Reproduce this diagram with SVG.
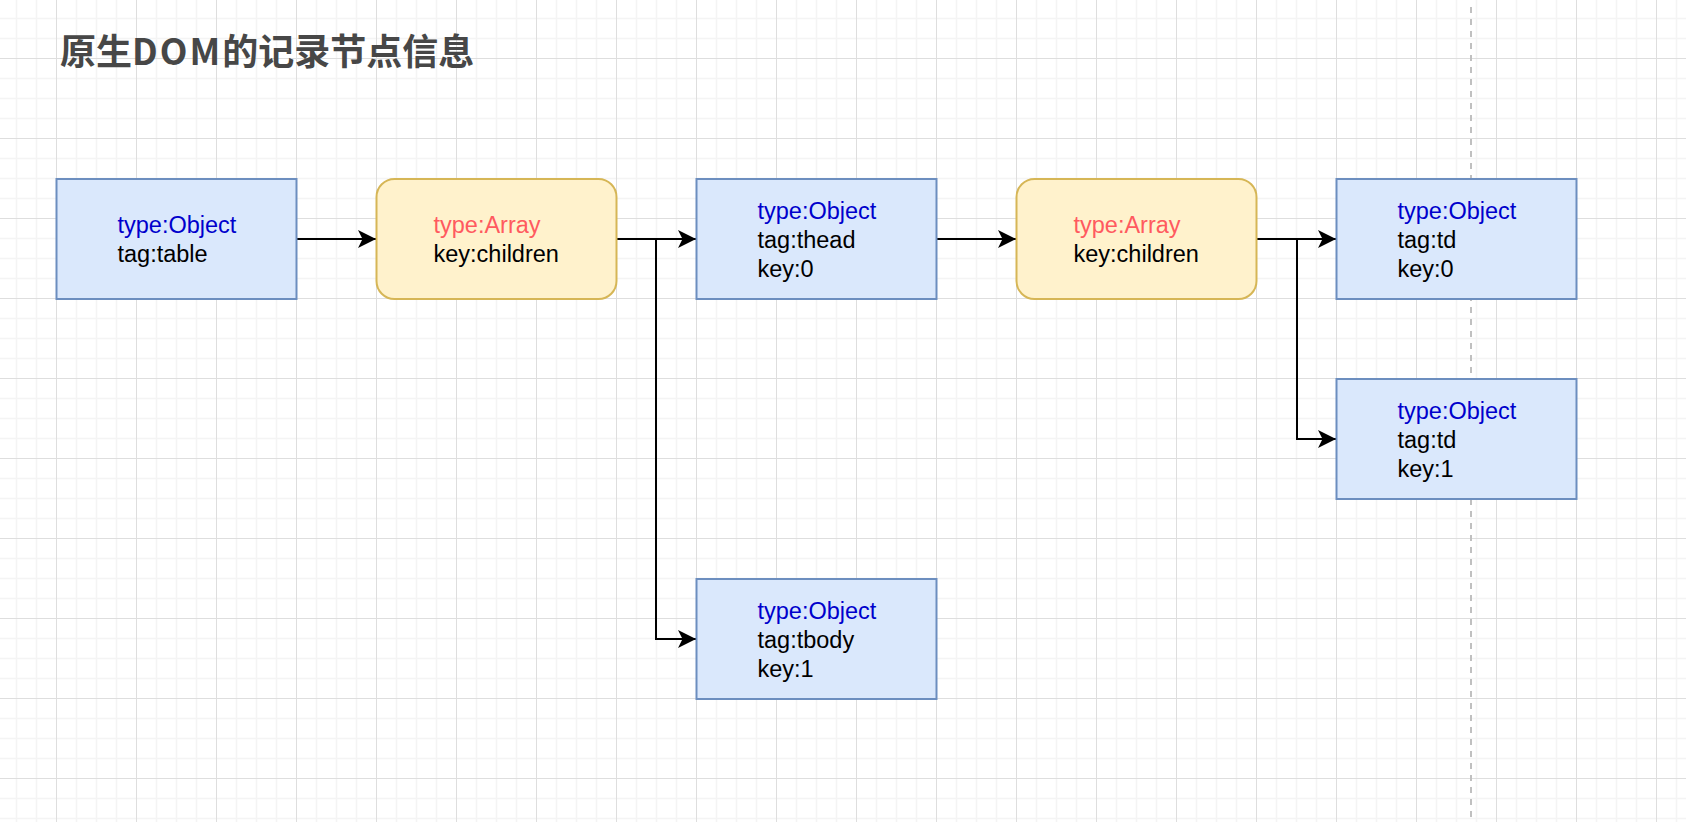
<svg xmlns="http://www.w3.org/2000/svg" width="1686" height="822" viewBox="0 0 1686 822">
<style>
.obj{fill:#dae8fc;stroke:#6c8ebf;stroke-width:2}
.arr{fill:#fff2cc;stroke:#d6b656;stroke-width:2}
.t{font-family:"Liberation Sans",Arial,Helvetica,sans-serif;font-size:23.5px;fill:#000}
.blue{fill:#0000cc}
.red{fill:#ff5a5f}
.edge{fill:none;stroke:#000;stroke-width:2;marker-end:url(#ah)}
.title{font-family:"Noto Sans CJK SC","Noto Sans",sans-serif;font-size:36px;font-weight:bold;fill:#474747}
</style>
<defs>
<pattern id="grid" patternUnits="userSpaceOnUse" x="56" y="58" width="80" height="80">
<path d="M20.5 0V80M40.5 0V80M60.5 0V80M0 20.5H80M0 40.5H80M0 60.5H80" stroke="#f4f4f4" stroke-width="1.5" fill="none"/>
<path d="M0.5 0V80M0 0.5H80" stroke="#dedede" stroke-width="1" fill="none"/>
</pattern>
<marker id="ah" markerUnits="userSpaceOnUse" viewBox="0 0 18 18" refX="18" refY="9" markerWidth="18" markerHeight="18" orient="auto">
<path d="M0 0L18 9L0 18L4.5 9Z" fill="#000"/>
</marker>
</defs>
<rect width="1686" height="822" fill="#fff"/>
<rect width="1686" height="822" fill="url(#grid)"/>
<line x1="1471" y1="7" x2="1471" y2="822" stroke="#c0c0c0" stroke-width="2" stroke-dasharray="6 6"/>
<g id="title">
<text class="title" x="60" y="65">原生<tspan letter-spacing="2">DO</tspan>M<tspan dx="2">的记录节点信息</tspan></text>
</g>
<g id="connectors">
<path class="edge" d="M297 239H376"/>
<path class="edge" d="M617 239H696"/>
<path class="edge" d="M617 239H656V639H696"/>
<path class="edge" d="M937 239H1016"/>
<path class="edge" d="M1257 239H1336"/>
<path class="edge" d="M1257 239H1297V439H1336"/>
</g>
<g id="n-table">
<rect class="obj" x="56.5" y="179" width="240" height="120"/>
<text class="t" x="117.5" y="233.4"><tspan class="blue">type:Object</tspan><tspan x="117.5" y="262.2">tag:table</tspan></text>
</g>
<g id="n-array1">
<rect class="arr" x="376.5" y="179" width="240" height="120" rx="18" ry="18"/>
<text class="t" x="433.5" y="233.4"><tspan class="red">type:Array</tspan><tspan x="433.5" y="262.2">key:children</tspan></text>
</g>
<g id="n-thead">
<rect class="obj" x="696.5" y="179" width="240" height="120"/>
<text class="t" x="757.5" y="219"><tspan class="blue">type:Object</tspan><tspan x="757.5" y="247.8">tag:thead</tspan><tspan x="757.5" y="276.6">key:0</tspan></text>
</g>
<g id="n-array2">
<rect class="arr" x="1016.5" y="179" width="240" height="120" rx="18" ry="18"/>
<text class="t" x="1073.5" y="233.4"><tspan class="red">type:Array</tspan><tspan x="1073.5" y="262.2">key:children</tspan></text>
</g>
<g id="n-td0">
<rect class="obj" x="1336.5" y="179" width="240" height="120"/>
<text class="t" x="1397.5" y="219"><tspan class="blue">type:Object</tspan><tspan x="1397.5" y="247.8">tag:td</tspan><tspan x="1397.5" y="276.6">key:0</tspan></text>
</g>
<g id="n-td1">
<rect class="obj" x="1336.5" y="379" width="240" height="120"/>
<text class="t" x="1397.5" y="419"><tspan class="blue">type:Object</tspan><tspan x="1397.5" y="447.8">tag:td</tspan><tspan x="1397.5" y="476.6">key:1</tspan></text>
</g>
<g id="n-tbody">
<rect class="obj" x="696.5" y="579" width="240" height="120"/>
<text class="t" x="757.5" y="619"><tspan class="blue">type:Object</tspan><tspan x="757.5" y="647.8">tag:tbody</tspan><tspan x="757.5" y="676.6">key:1</tspan></text>
</g>
</svg>
